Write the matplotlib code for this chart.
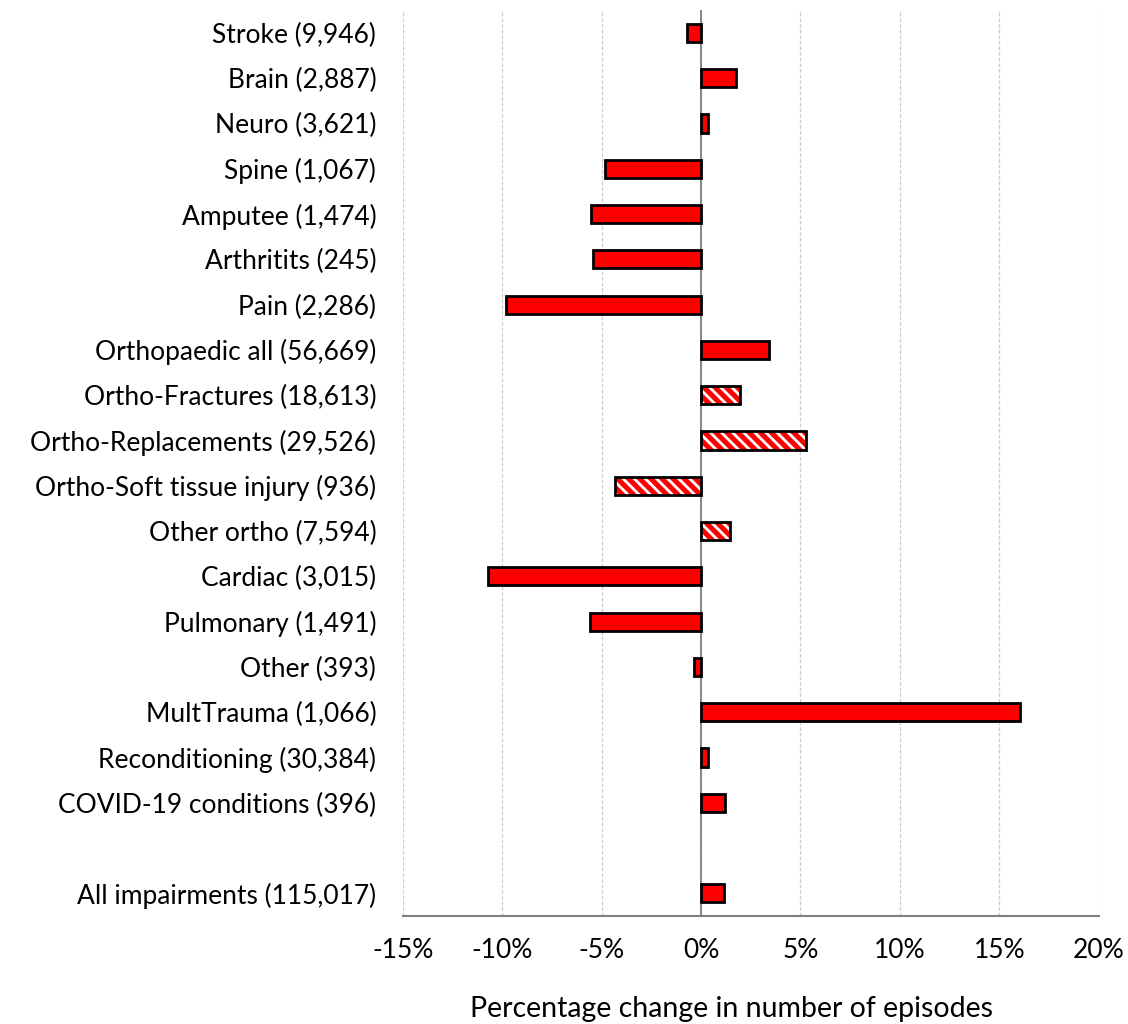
import matplotlib
matplotlib.use("Agg")
import matplotlib.pyplot as plt
import numpy as np

categories = [
    "Stroke (9,946)", "Brain (2,887)", "Neuro (3,621)", "Spine (1,067)",
    "Amputee (1,474)", "Arthritits (245)", "Pain (2,286)",
    "Orthopaedic all (56,669)", "Ortho-Fractures (18,613)",
    "Ortho-Replacements (29,526)", "Ortho-Soft tissue injury (936)",
    "Other ortho (7,594)", "Cardiac (3,015)", "Pulmonary (1,491)",
    "Other (393)", "MultTrauma (1,066)", "Reconditioning (30,384)",
    "COVID-19 conditions (396)", "All impairments (115,017)",
]
values = [
    -0.72, 1.75, 0.35, -4.82, -5.52, -5.42, -9.82,
    3.44, 1.95, 5.27, -4.30, 1.45,
    -10.71, -5.60, -0.33, 16.04, 0.33, 1.23, 1.14,
]
hatched = [False] * 8 + [True] * 4 + [False] * 7
xticks = [-15, -10, -5, 0, 5, 10, 15, 20]
xlabel = "Percentage change in number of episodes"

plt.rcParams["font.family"] = ["Lato", "DejaVu Sans"]
plt.rcParams["hatch.linewidth"] = 2.0

fig = plt.figure(figsize=(11.28, 10.24), dpi=100)
ax = fig.add_axes([0.357, 0.1055, 0.617, 0.8845])

# positions: one blank slot before the last category
pos = np.arange(len(categories), dtype=float)
pos[-1] += 1

for p, v, h in zip(pos, values, hatched):
    if h:
        ax.barh(p, v, height=0.4, color="#ff0000", edgecolor="white",
                hatch="\\\\\\", linewidth=0, zorder=3)
        ax.barh(p, v, height=0.4, fill=False, edgecolor="black",
                linewidth=2.0, zorder=4)
    else:
        ax.barh(p, v, height=0.4, color="#ff0000", edgecolor="black",
                linewidth=2.0, zorder=3)

ax.axvline(0, color="#808080", linewidth=1.3, zorder=2)

ax.set_xlim(-15, 20)
ax.set_ylim(pos[-1] + 0.5, -0.5)
ax.set_xticks(xticks)
ax.set_xticklabels([f"{t}%" for t in xticks])
ax.set_yticks(pos)
ax.set_yticklabels(categories)
ax.tick_params(axis="both", length=0, labelsize=19)
ax.tick_params(axis="x", pad=16)
ax.tick_params(axis="y", pad=19)
ax.set_xlabel(xlabel, fontsize=20.5)
ax.xaxis.set_label_coords(0.473, -0.088)

ax.grid(axis="x", color="#cccccc", linestyle=(0, (3, 1.5)), linewidth=0.9, zorder=0)
ax.set_axisbelow(True)
for s in ["top", "right", "left"]:
    ax.spines[s].set_visible(False)
ax.spines["bottom"].set_color("#808080")
ax.spines["bottom"].set_linewidth(1.5)

fig.savefig("out.png", dpi=100)
